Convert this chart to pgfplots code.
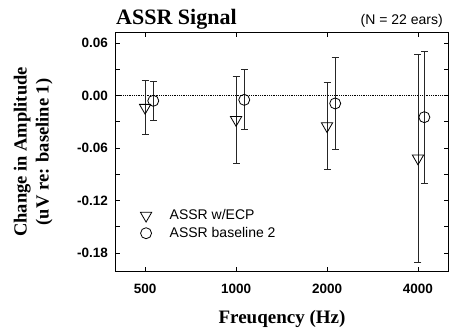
\documentclass[border=0pt]{standalone}
\usepackage{pgfplots}
\pgfplotsset{compat=1.18}
\usetikzlibrary{calc}
\usepackage{fontspec}
\setmainfont{Liberation Sans}
\newfontfamily\timesfont{Liberation Serif}
\begin{document}
\begin{tikzpicture}
\begin{axis}[
  scale only axis,
  width=332pt, height=238pt,
  xmin=-0.32, xmax=3.33,
  ymin=-0.2006, ymax=0.0714,
  xtick={0,1,2,3},
  xticklabels={500,1000,2000,4000},
  ytick={-0.18,-0.12,-0.06,0,0.06},
  yticklabels={-0.18,-0.12,-0.06,0.00,0.06},
  minor ytick={-0.15,-0.09,-0.03,0.03},
  tick align=inside,
  major tick length=4pt, minor tick length=4pt,
  tick style={black, line width=0.8pt},
  axis line style={black, line width=1pt},
  tick label style={font=\bfseries\fontsize{13.5}{15}\selectfont},
  xticklabel style={anchor=base, yshift=-22pt},
  yticklabel style={anchor=east, inner sep=0pt, xshift=-8pt},
  xlabel={\timesfont\bfseries Freuqency (Hz)},
  xlabel style={at={(rel axis cs:0.5,0)}, anchor=base, yshift=-52pt, font=\fontsize{19}{22}\selectfont},
  ylabel={\timesfont\bfseries Change in Amplitude\\\timesfont\bfseries(uV re: baseline 1)},
  ylabel style={at={(rel axis cs:-0.1807,0.5)}, anchor=south, rotate=0, align=center, font=\fontsize{18.5}{22}\selectfont},
  legend style={draw=none, fill=none, at={(rel axis cs:0.064,0.275)}, anchor=north west,
    font=\fontsize{14}{16}\selectfont, row sep=2pt,
    /tikz/every odd column/.append style={column sep=16pt}},
  legend cell align=left,
  clip=false,
]
\coordinate (SW) at (rel axis cs:0,0);
\coordinate (NE) at (rel axis cs:1,1);
\addplot[black, line width=0.8pt, densely dotted, forget plot] coordinates {(-0.32,0) (3.33,0)};
\addplot[only marks, mark=triangle, mark size=6.5pt,
  mark options={rotate=180, fill=none, line width=0.8pt, draw=black},
  error bars/.cd, y dir=both, y explicit,
  error bar style={line width=0.9pt, color=black!85},
  error mark options={rotate=90, mark size=3.5pt, line width=0.9pt, color=black!85}]
  coordinates {
  (0,-0.0139) +- (0,0.0310)
  (1,-0.0278) +- (0,0.0499)
  (2,-0.0349) +- (0,0.0501)
  (3,-0.0718) +- (0,0.1187)
  };
\addlegendentry{ASSR w/ECP}
\addplot[only marks, mark=o, mark size=5.5pt,
  mark options={fill=none, line width=0.8pt, draw=black},
  error bars/.cd, y dir=both, y explicit,
  error bar style={line width=0.9pt, color=black!85},
  error mark options={rotate=90, mark size=3.5pt, line width=0.9pt, color=black!85}]
  coordinates {
  (0.09,-0.0061) +- (0,0.0225)
  (1.09,-0.0050) +- (0,0.0343)
  (2.09,-0.0091) +- (0,0.0526)
  (3.07,-0.0248) +- (0,0.0754)
  };
\addlegendentry{ASSR baseline 2}
\node[anchor=base west, inner sep=0pt, font=\timesfont\bfseries\fontsize{22}{24}\selectfont] at ($(rel axis cs:0,1)+(0pt,8pt)$) {ASSR Signal};
\node[anchor=base east, inner sep=0pt, font=\fontsize{14}{16}\selectfont] at ($(rel axis cs:1,1)+(-5pt,8pt)$) {(N = 22 ears)};
\end{axis}
\pgfresetboundingbox
\path[use as bounding box] ($(SW)+(-116pt,-61pt)$) rectangle ($(NE)+(1pt,33pt)$);
\end{tikzpicture}
\end{document}
